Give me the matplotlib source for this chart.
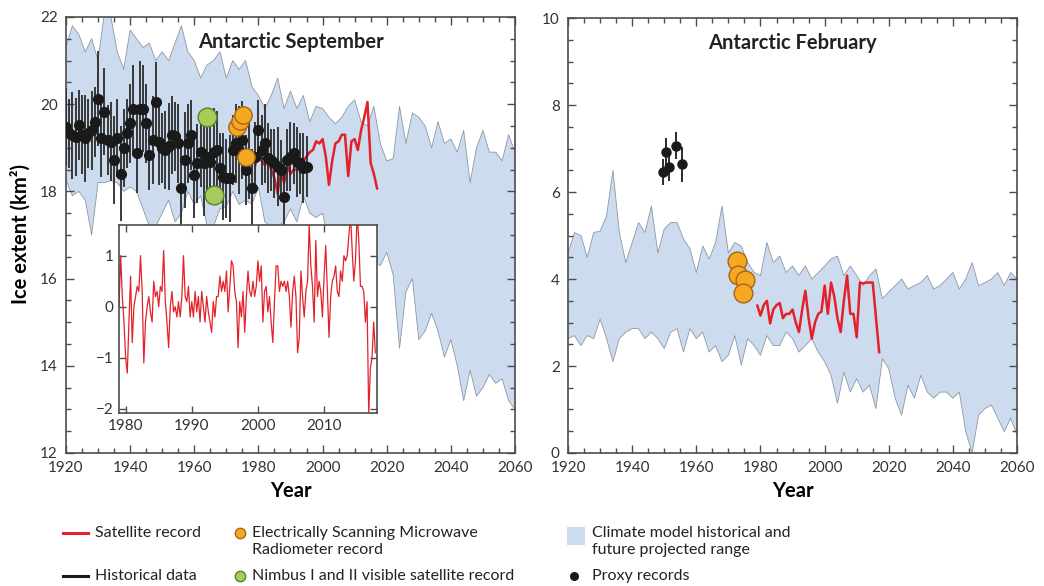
import numpy as np
import matplotlib
matplotlib.use('Agg')
import matplotlib.pyplot as plt
from matplotlib.lines import Line2D
from matplotlib.patches import Rectangle
from matplotlib.ticker import MultipleLocator

plt.rcParams['font.family'] = ['Lato', 'DejaVu Sans']

# model range, every 2 years 1920-2060
band_years = list(range(1920, 2061, 2))
sep_high = [21.3, 21.8, 21.6, 21.2, 21.5, 21.0, 22.1, 22.0, 21.2, 20.8,
            21.7, 21.5, 21.3, 21.4, 21.0, 21.2, 21.0, 21.4, 21.8, 21.2,
            21.0, 20.6, 20.9, 21.0, 21.2, 20.6, 21.0, 20.8, 21.0, 20.4,
            20.2, 19.9, 20.2, 20.6, 19.9, 20.3, 19.9, 20.2, 19.6, 19.95,
            19.9, 19.7, 19.55, 19.7, 19.95, 20.1, 19.6, 19.5, 19.95, 19.1,
            18.7, 18.75, 19.95, 19.1, 19.8, 19.7, 19.5, 19.0, 19.6, 19.1,
            19.2, 18.9, 19.4, 18.2, 19.0, 19.4, 18.9, 18.9, 18.7, 19.3,
            18.9]
sep_low = [18.26, 17.9, 18.0, 17.8, 17.0, 18.2, 18.2, 18.25, 18.2, 18.0,
           18.1, 18.0, 17.6, 17.2, 17.2, 17.5, 17.8, 17.3, 17.5, 18.0,
           17.7, 17.9, 17.2, 17.2, 17.6, 17.65, 18.0, 17.7, 17.8, 17.7,
           18.1, 17.3, 17.2, 17.2, 17.3, 17.6, 17.3, 17.9, 17.5, 17.4,
           17.5, 16.8, 16.9, 16.6, 16.7, 16.5, 16.6, 16.3, 16.4, 16.3,
           16.6, 16.1, 14.4, 15.7, 16.0, 14.6, 14.8, 15.2, 14.8, 14.2,
           14.6, 14.0, 13.2, 13.9, 13.3, 13.5, 13.8, 13.6, 13.7, 13.2,
           13.0]
feb_high = [4.6, 5.07, 5.0, 4.5, 5.07, 5.1, 5.45, 6.5, 5.07, 4.38,
            4.84, 5.3, 5.07, 5.68, 4.6, 5.15, 5.3, 5.3, 4.92, 4.7,
            4.15, 4.76, 4.46, 4.84, 5.68, 4.6, 4.84, 4.76, 4.38, 4.15,
            4.08, 4.84, 4.38, 4.53, 4.15, 4.3, 4.08, 4.3, 4.0, 4.15,
            4.3, 4.46, 4.53, 4.08, 4.3, 4.08, 3.85, 4.08, 4.23, 3.55,
            3.7, 3.85, 4.0, 3.77, 3.85, 3.92, 4.08, 3.77, 3.85, 4.0,
            4.15, 3.77, 4.0, 4.38, 3.85, 3.92, 4.0, 4.15, 3.85, 4.15,
            4.0]
feb_low = [2.63, 2.7, 2.47, 2.7, 2.63, 3.08, 2.63, 2.1, 2.63, 2.78,
           2.86, 2.86, 2.63, 2.78, 2.63, 2.4, 2.78, 2.86, 2.32, 2.86,
           2.63, 2.78, 2.32, 2.47, 2.1, 2.25, 2.7, 2.02, 2.63, 2.47,
           2.25, 2.7, 2.47, 2.47, 2.78, 2.63, 2.32, 2.47, 2.63, 2.32,
           2.1, 1.79, 1.14, 1.86, 1.4, 1.71, 1.4, 1.56, 1.02, 2.17,
           1.94, 1.26, 0.87, 1.56, 1.26, 1.79, 1.4, 1.26, 1.4, 1.4,
           1.26, 1.4, 0.49, 0.0, 0.87, 1.02, 1.1, 0.8, 0.49, 0.8,
           0.41]

# satellite record 1979-2017
sat_years = list(range(1979, 2018))
sep_sat = [18.6, 18.9, 18.7, 18.6, 18.7, 18.5, 18.3, 17.95, 18.5, 18.2,
           18.6, 18.4, 18.5, 18.5, 18.6, 18.7, 18.8, 18.9, 18.95, 19.15,
           19.1, 19.2, 18.8, 18.15, 18.7, 19.1, 19.15, 19.3, 19.3, 18.35,
           19.15, 19.2, 18.95, 19.4, 19.7, 20.05, 18.65, 18.4, 18.07]
feb_sat = [3.39, 3.16, 3.4, 3.5, 2.98, 3.3, 3.4, 3.45, 3.1, 3.2,
           3.2, 3.3, 3.0, 2.78, 3.3, 3.73, 3.1, 2.63, 3.0, 3.2,
           3.25, 3.85, 3.2, 3.92, 3.6, 3.1, 2.78, 3.5, 4.08, 3.2,
           3.2, 2.66, 3.92, 3.9, 3.92, 3.92, 3.92, 3.12, 2.32]

# historical September data 1920-1995
hist_years = list(range(1920, 1996))
hist_sep = [19.48, 19.33, 19.29, 19.25, 19.52, 19.30, 19.22, 19.33, 19.40, 19.60,
            20.13, 19.22, 19.83, 19.18, 19.14, 18.72, 19.22, 18.41, 18.99, 19.33,
            19.56, 19.90, 18.87, 19.90, 19.90, 19.56, 18.83, 19.18, 20.06, 19.14,
            18.99, 18.95, 19.03, 19.29, 19.26, 19.10, 18.07, 18.72, 19.10, 19.29,
            18.38, 18.64, 18.91, 18.64, 18.80, 18.68, 18.91, 18.95, 18.53, 18.34,
            18.30, 18.30, 18.95, 19.10, 18.95, 19.18, 18.49, 18.83, 18.07, 18.80,
            19.40, 18.95, 19.10, 18.76, 18.72, 18.64, 18.57, 18.49, 17.88, 18.72,
            18.80, 18.87, 18.68, 18.64, 18.53, 18.57]
hist_err = [0.9, 0.8, 1.0, 0.9, 0.8, 0.9, 1.0, 0.8, 0.9, 0.8,
            1.1, 0.9, 1.0, 0.8, 0.9, 1.0, 0.9, 1.1, 0.9, 0.8,
            0.9, 1.0, 0.9, 1.1, 1.0, 0.9, 0.8, 1.0, 0.9, 1.0,
            0.8, 0.9, 1.0, 0.9, 0.8, 0.9, 1.0, 1.1, 0.9, 0.8,
            1.0, 0.9, 0.8, 1.2, 1.0, 0.9, 1.0, 0.9, 0.8, 1.0,
            0.9, 1.0, 0.8, 0.9, 1.0, 0.9, 0.8, 1.0, 0.9, 0.8,
            0.7, 0.8, 0.9, 0.8, 0.7, 0.8, 0.9, 0.7, 0.8, 0.7,
            0.8, 0.7, 0.8, 0.7, 0.8, 0.7]

nimbus_years = [1963.9, 1966.1]
nimbus_sep = [19.71, 17.92]
esmr_sep_years = [1973.2, 1974.2, 1975.2, 1976.2]
esmr_sep = [19.48, 19.62, 19.75, 18.78]
esmr_feb_years = [1972.6, 1973.1, 1975.2, 1974.5]
esmr_feb = [4.41, 4.10, 3.97, 3.68]

proxy_years = [1949.5, 1950.6, 1951.6, 1953.6, 1955.6]
proxy_feb = [6.46, 6.93, 6.57, 7.07, 6.64]
proxy_err = [0.30, 0.32, 0.32, 0.31, 0.40]

# inset: quarterly September anomaly 1979-2017
inset_t = np.arange(1979, 2018, 0.25)
inset_anom = [0.0, 1.0, 0.2, -0.3, -1.0, -1.3, -0.3, 0.6, -0.7, 0.0, 0.2, 0.4,
              0.3, 1.0, 0.3, -1.1, -0.3, 0.0, 0.2, -0.1, -0.3, 0.5, 0.2, 0.3,
              0.0, 0.4, 0.3, 1.1, 0.1, -0.3, -0.8, 0.0, 0.3, -0.1, 0.0, -0.2,
              0.1, -0.2, 0.2, 1.0, 0.2, 0.1, 0.4, -0.2, 0.1, -0.2, 0.3, -0.1,
              0.2, -0.3, 0.3, 0.0, -0.3, 0.2, -0.1, -0.3, -0.5, 0.1, -0.2, 0.2,
              0.2, 0.6, 0.3, 0.5, 0.3, 0.7, -0.1, 0.4, 0.9, 0.8, 0.3, 0.1,
              -0.8, 0.1, -0.2, 0.3, -0.5, 0.2, 0.7, 0.3, 0.2, 0.5, 0.2, 0.4,
              0.9, 0.5, 0.8, -0.3, 0.3, 0.4, -0.1, 0.2, -0.3, -0.7, 0.1, 0.8,
              0.8, 0.3, 0.5, 0.4, 0.5, 0.3, 0.5, 0.2, -0.4, 0.3, 0.6, 0.2,
              -0.9, -0.6, 0.7, 0.2, -0.2, 0.3, 0.5, 1.6, 0.8, 0.4, -0.3, 1.3,
              0.2, 0.5, 0.3, -0.2, 0.6, 1.2, 0.3, -0.6, 0.2, 0.5, 0.6, 0.8,
              0.3, 0.2, 0.7, 0.5, 1.0, 0.9, 1.0, 1.4, 1.8, 1.1, 0.5, 0.9,
              1.8, 1.3, 0.4, 0.4, 0.3, -0.3, 0.1, -2.1, -1.2, -1.0, -0.3, -0.9]

BAND = '#cddbef'
BAND_EDGE = '#8d97a4'
RED = '#e3212b'
ORANGE = '#f6a821'
GREEN = '#a5cd5a'


def style_axes(ax):
    for s in ax.spines.values():
        s.set_color('#4d4d4d')
        s.set_linewidth(1.2)
    ax.tick_params(which='both', direction='in', top=True, right=True,
                   color='#4d4d4d', labelcolor='#333333', labelsize=11, width=1.0)
    ax.tick_params(which='major', length=6, pad=6)
    ax.tick_params(which='minor', length=3.5)


fig = plt.figure(figsize=(10.44, 5.86), dpi=100)
ax1 = fig.add_axes([0.0632, 0.227, 0.4301, 0.744])
ax2 = fig.add_axes([0.5441, 0.227, 0.4301, 0.742])

# left: September
ax1.fill_between(band_years, sep_low, sep_high, facecolor=BAND, edgecolor='none', zorder=1)
ax1.plot(band_years, sep_high, color=BAND_EDGE, lw=0.6, zorder=1.5)
ax1.plot(band_years, sep_low, color=BAND_EDGE, lw=0.6, zorder=1.5)
ax1.plot(sat_years, sep_sat, color=RED, lw=1.8, zorder=2)
ax1.errorbar(hist_years, hist_sep, yerr=hist_err, fmt='o', color='#1a1a1a', ms=7,
             ecolor='#2b2b2b', elinewidth=1.3, capsize=0, zorder=3)
ax1.plot(nimbus_years, nimbus_sep, 'o', ms=13.5, mfc=GREEN, mec='#5f7f2e', mew=1, zorder=4)
ax1.plot(esmr_sep_years, esmr_sep, 'o', ms=12.5, mfc=ORANGE, mec='#a3651a', mew=1, zorder=5)
ax1.set_xlim(1920, 2060)
ax1.set_ylim(12, 22)
ax1.xaxis.set_major_locator(MultipleLocator(20))
ax1.xaxis.set_minor_locator(MultipleLocator(5))
ax1.yaxis.set_major_locator(MultipleLocator(2))
ax1.yaxis.set_minor_locator(MultipleLocator(0.5))
style_axes(ax1)
ax1.set_xlabel('Year', fontsize=14.5, fontweight='bold', labelpad=4)
ax1.text(0.5, 0.943, 'Antarctic September', transform=ax1.transAxes, ha='center', va='center',
         fontsize=14.5, fontweight='bold', color='#222222', zorder=6)

# right: February
ax2.fill_between(band_years, feb_low, feb_high, facecolor=BAND, edgecolor='none', zorder=1)
ax2.plot(band_years, feb_high, color=BAND_EDGE, lw=0.6, zorder=1.5)
ax2.plot(band_years, feb_low, color=BAND_EDGE, lw=0.6, zorder=1.5)
ax2.plot(sat_years, feb_sat, color=RED, lw=1.8, zorder=2)
ax2.errorbar(proxy_years, proxy_feb, yerr=proxy_err, fmt='o', color='#1a1a1a', ms=6.5,
             ecolor='#2b2b2b', elinewidth=1.4, capsize=0, zorder=3)
ax2.plot(esmr_feb_years, esmr_feb, 'o', ms=13.5, mfc=ORANGE, mec='#a3651a', mew=1, zorder=5)
ax2.set_xlim(1920, 2060)
ax2.set_ylim(0, 10)
ax2.xaxis.set_major_locator(MultipleLocator(20))
ax2.xaxis.set_minor_locator(MultipleLocator(5))
ax2.yaxis.set_major_locator(MultipleLocator(2))
ax2.yaxis.set_minor_locator(MultipleLocator(0.5))
style_axes(ax2)
ax2.set_xlabel('Year', fontsize=14.5, fontweight='bold', labelpad=4)
ax2.text(0.5, 0.943, 'Antarctic February', transform=ax2.transAxes, ha='center', va='center',
         fontsize=14.5, fontweight='bold', color='#222222', zorder=6)

fig.text(21 / 1044, 1 - 234 / 586, 'Ice extent (km²)', rotation=90, ha='center', va='center',
         fontsize=14.5, fontweight='bold')

# inset anomaly
axin = fig.add_axes([0.114, 0.2952, 0.2471, 0.3208])
axin.set_facecolor('white')
axin.plot(inset_t, inset_anom, color=RED, lw=0.9)
axin.set_xlim(1979, 2018)
axin.set_ylim(-2.08, 1.6)
axin.set_xticks([1980, 1990, 2000, 2010])
axin.set_yticks([-2, -1, 0, 1])
style_axes(axin)
axin.tick_params(which='major', length=5, pad=4)


# legend drawn by hand, in pixel positions of the figure
def fx(px):
    return px / 1044


def fy(py):
    return 1 - py / 586


tkw = dict(fontsize=11.5, va='center', ha='left', color='#222222')
fig.add_artist(Line2D([fx(63), fx(88)], [fy(533), fy(533)], color=RED, lw=2.2))
fig.text(fx(95), fy(533), 'Satellite record', **tkw)
fig.add_artist(Line2D([fx(63), fx(88)], [fy(576), fy(576)], color='#1a1a1a', lw=2.2))
fig.text(fx(95), fy(576), 'Historical data', **tkw)

fig.add_artist(Line2D([fx(240)], [fy(533)], marker='o', ms=7.5, mfc=ORANGE, mec='#a3651a', lw=0))
fig.text(fx(252), fy(533), 'Electrically Scanning Microwave', **tkw)
fig.text(fx(252), fy(550), 'Radiometer record', **tkw)
fig.add_artist(Line2D([fx(240)], [fy(576)], marker='o', ms=7.5, mfc=GREEN, mec='#5f7f2e', lw=0))
fig.text(fx(252), fy(576), 'Nimbus I and II visible satellite record', **tkw)

fig.add_artist(Rectangle((fx(567), fy(545)), 18 / 1044, 18 / 586, facecolor=BAND, edgecolor='none'))
fig.text(fx(592), fy(533), 'Climate model historical and', **tkw)
fig.text(fx(592), fy(550), 'future projected range', **tkw)
fig.add_artist(Line2D([fx(574)], [fy(576)], marker='o', ms=5.5, color='#1a1a1a', lw=0))
fig.text(fx(592), fy(576), 'Proxy records', **tkw)

fig.savefig('out.png', dpi=100)
